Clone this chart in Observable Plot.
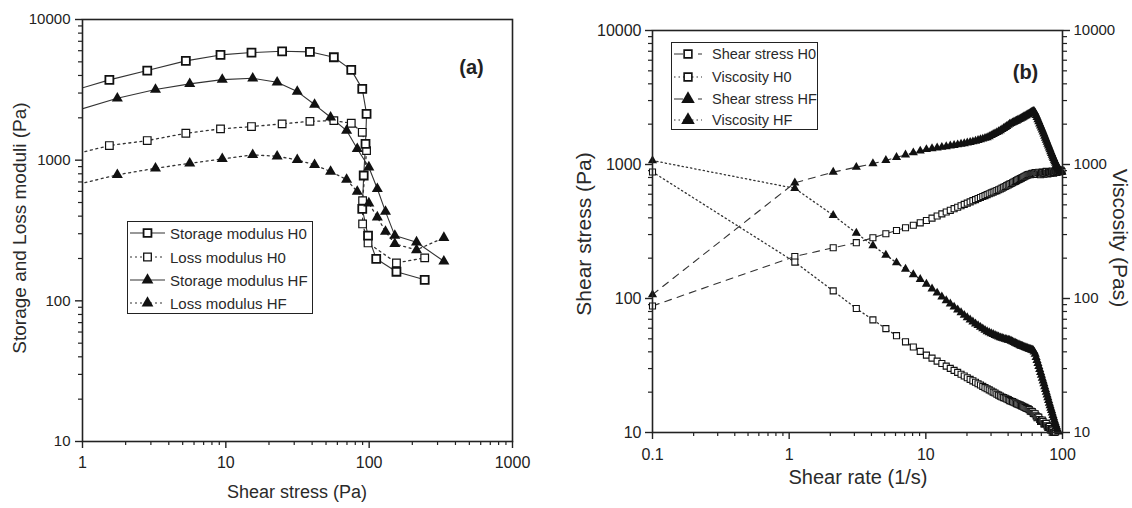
<!DOCTYPE html>
<html><head><meta charset="utf-8">
<script src="https://cdn.jsdelivr.net/npm/d3@7"></script>
<script src="https://cdn.jsdelivr.net/npm/@observablehq/plot@0.6"></script>
<style>
body{margin:0;background:#fff;}
#wrap{position:relative;width:1132px;height:508px;overflow:hidden;font-family:"Liberation Sans",Arial,sans-serif;color:#222;background:#fff;}
.panel{position:absolute;top:0;}
.title{position:absolute;white-space:nowrap;color:#2a2a2a;line-height:1;}
.legend{position:absolute;border:1.6px solid #222;background:#fff;box-sizing:border-box;}
.row{position:absolute;left:0;display:flex;align-items:center;white-space:nowrap;color:#2a2a2a;}
</style></head>
<body><div id="wrap"></div>
<script>
// ---------- Panel (a): Storage / loss moduli vs shear stress ----------
const aStorageH0X = [0.8, 1.54, 2.83, 5.26, 9.18, 15.1, 24.7, 38.6, 56.7, 75, 89.5, 95.9, 94.3, 91.6, 89.5, 98.2, 112, 155, 244];
const aStorageH0Y = [3057, 3722, 4335, 5080, 5600, 5820, 5943, 5890, 5390, 4385, 3212, 2134, 1306, 778, 451, 291, 199, 161, 141];
const aLossH0X = [0.8, 1.54, 2.83, 5.26, 9.18, 15.1, 24.7, 38.6, 56.7, 75, 89.5, 95.9, 90, 90, 98.2, 155, 244];
const aLossH0Y = [1078, 1270, 1378, 1553, 1669, 1733, 1811, 1888, 1911, 1829, 1578, 1170, 516, 352, 258, 186, 202];
const aStorageHFX = [0.8, 1.75, 3.23, 5.6, 9.44, 15.4, 22.8, 31.5, 41.6, 53.8, 69.6, 82.6, 99.5, 114, 130, 151, 214, 332];
const aStorageHFY = [2165, 2754, 3176, 3487, 3739, 3819, 3580, 3073, 2485, 2018, 1623, 1204, 891, 626, 431, 291, 261, 191];
const aLossHFX = [0.8, 1.75, 3.23, 5.6, 9.44, 15.4, 22.8, 31.5, 41.6, 53.8, 69.6, 82.6, 99.5, 114, 130, 151, 214, 332];
const aLossHFY = [649, 787, 876, 950, 1021, 1091, 1066, 1005, 926, 830, 728, 598, 494, 393, 311, 254, 230, 281];
const aLegendLabels = ["Storage modulus H0", "Loss modulus H0", "Storage modulus HF", "Loss modulus HF"];
const aXTicks = [1, 10, 100, 1000];
const aYTicks = [10, 100, 1000, 10000];

// ---------- Panel (b): Shear stress / viscosity vs shear rate ----------
const bRate = [0.1, 1.1, 2.1, 3.1, 4.1, 5.1, 6.1, 7.1, 8.1, 9.1, 10.1, 11.1, 12.1, 13.1, 14.1, 15.1, 16.1, 17.1, 18.1, 19.1, 20.1, 21.1, 22.1, 23.1, 24.1, 25.1, 26.1, 27.1, 28.1, 29.1, 30.1, 31.1, 32.1, 33.1, 34.1, 35.1, 36.1, 37.1, 38.1, 39.1, 40.1, 41.1, 42.1, 43.1, 44.1, 45.1, 46.1, 47.1, 48.1, 49.1, 50.1, 51.1, 52.1, 53.1, 54.1, 55.1, 56.1, 57.1, 58.1, 59.1, 60.1, 61.1, 62.1, 63.1, 64.1, 65.1, 66.1, 67.1, 68.1, 69.1, 70.1, 71.1, 72.1, 73.1, 74.1, 75.1, 76.1, 77.1, 78.1, 79.1, 80.1, 81.1, 82.1, 83.1, 84.1, 85.1, 86.1, 87.1, 88.1, 89.1, 90.1, 91.1, 92.1, 93.1, 94.1, 95.1, 96.1, 97.1, 98.1, 99.1];
const bStressH0 = [88, 206, 239, 261, 284, 304, 322, 337, 352, 367, 382, 398, 413, 428, 442, 455, 468, 480, 492, 504, 515, 526, 537, 547, 557, 567, 577, 586, 596, 605, 614, 622, 631, 639, 648, 656, 666, 676, 685, 695, 704, 713, 722, 731, 740, 749, 758, 767, 775, 784, 792, 800, 808, 817, 825, 833, 841, 846, 838, 852, 861, 849, 858, 870, 852, 843, 866, 874, 851, 838, 862, 880, 869, 846, 858, 877, 889, 864, 851, 872, 886, 870, 856, 878, 893, 881, 862, 874, 890, 902, 884, 871, 889, 905, 896, 880, 893, 908, 899, 887];
const bViscH0 = [880, 187, 114, 84.2, 69.3, 59.6, 52.8, 47.5, 43.5, 40.3, 37.8, 35.9, 34.1, 32.7, 31.3, 30.1, 29.1, 28.1, 27.2, 26.4, 25.6, 24.9, 24.3, 23.7, 23.1, 22.6, 22.1, 21.6, 21.2, 20.8, 20.4, 20.0, 19.7, 19.3, 19.0, 18.7, 18.4, 18.2, 18.0, 17.8, 17.6, 17.3, 17.1, 17.0, 16.8, 16.6, 16.4, 16.3, 16.1, 16.0, 15.8, 15.7, 15.5, 15.4, 15.2, 15.1, 15.0, 14.8, 14.4, 14.4, 14.3, 13.9, 13.8, 13.8, 13.3, 12.9, 13.1, 13.0, 12.5, 12.1, 12.3, 12.4, 12.1, 11.6, 11.6, 11.7, 11.7, 11.2, 10.9, 11.0, 11.1, 10.7, 10.4, 10.6, 10.6, 10.4, 10.0, 10.0, 10.1, 10.1, 9.8, 9.6, 9.7, 9.7, 9.5, 9.3, 9.3, 9.4, 9.2, 9.0];
const bStressHF = [107, 730, 877, 955, 1015, 1075, 1130, 1180, 1225, 1262, 1295, 1313, 1330, 1346, 1362, 1377, 1392, 1406, 1420, 1435, 1450, 1465, 1480, 1497, 1515, 1533, 1552, 1571, 1590, 1618, 1648, 1680, 1705, 1735, 1762, 1790, 1826, 1860, 1895, 1930, 1965, 2000, 2025, 2050, 2074, 2098, 2120, 2145, 2168, 2190, 2216, 2243, 2268, 2294, 2320, 2345, 2370, 2395, 2420, 2448, 2475, 2500, 2480, 2420, 2330, 2250, 2165, 2088, 2013, 1945, 1877, 1812, 1750, 1690, 1631, 1575, 1520, 1470, 1422, 1375, 1330, 1290, 1250, 1212, 1175, 1140, 1110, 1080, 1052, 1025, 1000, 978, 956, 935, 922, 910, 900, 893, 886, 880];
const bViscHF = [1070, 664, 418, 308, 248, 211, 185, 166, 151, 139, 128, 118, 110, 103, 96.6, 91.2, 86.5, 82.2, 78.5, 75.1, 72.1, 69.4, 67.0, 64.8, 62.9, 61.1, 59.5, 58.0, 56.6, 55.6, 54.8, 54.0, 53.1, 52.4, 51.7, 51.0, 50.6, 50.1, 49.7, 49.4, 49.0, 48.7, 48.1, 47.6, 47.0, 46.5, 46.0, 45.5, 45.1, 44.6, 44.2, 43.9, 43.5, 43.2, 42.9, 42.6, 42.2, 41.9, 41.7, 41.4, 41.2, 40.9, 39.9, 38.4, 36.4, 34.6, 32.8, 31.1, 29.6, 28.1, 26.8, 25.5, 24.3, 23.2, 22.0, 21.0, 20.0, 19.1, 18.2, 17.4, 16.6, 15.9, 15.2, 14.6, 14.0, 13.4, 12.9, 12.4, 11.9, 11.5, 11.1, 10.7, 10.4, 10.1, 9.8, 9.6, 9.4, 9.2, 9.0, 8.9];
const bLegendLabels = ["Shear stress H0", "Viscosity H0", "Shear stress HF", "Viscosity HF"];
const bXTicks = [0.1, 1, 10, 100];
const bYTicks = [10, 100, 1000, 10000];

// ---------- helpers ----------
const pts = (xs, ys) => xs.map((x, i) => ({x, y: ys[i]}));
const minorsOf = majors => majors.slice(0, -1).flatMap(m => [2,3,4,5,6,7,8,9].map(k => +(k*m).toPrecision(3)));
const FONT = "Liberation Sans, Arial, sans-serif";
const INK = "#222";

const wrap = document.getElementById("wrap");
function place(node, left) { node.classList.add("panel"); node.style.left = left + "px"; wrap.appendChild(node); }
function addTitle(text, cx, cy, size, rot) {
  const d = document.createElement("div");
  d.className = "title"; d.textContent = text;
  d.style.fontSize = size + "px"; d.style.left = cx + "px"; d.style.top = cy + "px";
  d.style.transform = `translate(-50%,-50%) rotate(${rot}deg)`;
  wrap.appendChild(d);
}
function symbolSvg(kind, dash, w, size, sw) {
  const ns = "http://www.w3.org/2000/svg";
  const s = document.createElementNS(ns, "svg");
  s.setAttribute("width", w); s.setAttribute("height", 16);
  const ln = document.createElementNS(ns, "line");
  ln.setAttribute("x1", 0); ln.setAttribute("x2", w); ln.setAttribute("y1", 8); ln.setAttribute("y2", 8);
  ln.setAttribute("stroke", "#333"); ln.setAttribute("stroke-width", 1.1);
  if (dash) ln.setAttribute("stroke-dasharray", dash);
  s.appendChild(ln);
  const p = document.createElementNS(ns, "path");
  const sym = kind === "square" ? d3.symbolSquare : d3.symbolTriangle;
  p.setAttribute("d", d3.symbol(sym, size)());
  p.setAttribute("transform", `translate(${w/2},8)`);
  if (kind === "square") { p.setAttribute("fill", "#fff"); p.setAttribute("stroke", "#111"); p.setAttribute("stroke-width", sw); }
  else p.setAttribute("fill", "#111");
  s.appendChild(p);
  return s;
}
function addLegend(left, top, width, height, labels, styles, rowY, fontSize, symW, gap) {
  const box = document.createElement("div");
  box.className = "legend";
  Object.assign(box.style, {left: left + "px", top: top + "px", width: width + "px", height: height + "px"});
  labels.forEach((lab, i) => {
    const r = document.createElement("div");
    r.className = "row";
    r.style.top = (rowY[i] - 9) + "px"; r.style.height = "18px"; r.style.left = "2px";
    r.style.fontSize = fontSize + "px";
    const st = styles[i];
    const svg = symbolSvg(st.kind, st.dash, symW, st.size, st.sw);
    svg.style.marginRight = gap + "px";
    r.appendChild(svg);
    const t = document.createElement("span"); t.textContent = lab; r.appendChild(t);
    box.appendChild(r);
  });
  wrap.appendChild(box);
}

// ---------- Panel (a) ----------
const sH0 = pts(aStorageH0X, aStorageH0Y), lH0 = pts(aLossH0X, aLossH0Y);
const sHF = pts(aStorageHFX, aStorageHFY), lHF = pts(aLossHFX, aLossHFY);
const inA = d => d.x >= 1;
const dotted = "2,3.6";
const plotA = Plot.plot({
  width: 560, height: 508,
  marginLeft: 82, marginRight: 48, marginTop: 19, marginBottom: 67,
  style: {fontFamily: FONT, background: "transparent", color: INK, overflow: "visible"},
  x: {type: "log", domain: [1, 1000]},
  y: {type: "log", domain: [10, 10000]},
  marks: [
    Plot.axisX(minorsOf(aXTicks), {tickSize: 4, tickFormat: () => "", strokeWidth: 1.2, label: null}),
    Plot.axisX(aXTicks, {tickSize: 7, tickPadding: 8, tickFormat: d => String(d), fontSize: 16, strokeWidth: 1.4, label: null}),
    Plot.axisY(minorsOf(aYTicks), {tickSize: 4, tickFormat: () => "", strokeWidth: 1.2, label: null}),
    Plot.axisY(aYTicks, {tickSize: 7, tickPadding: 5, tickFormat: d => String(d), fontSize: 15, strokeWidth: 1.4, label: null}),
    Plot.line(sH0, {x: "x", y: "y", stroke: "#333", strokeWidth: 1.1, clip: true}),
    Plot.line(lH0, {x: "x", y: "y", stroke: "#333", strokeWidth: 1.3, strokeDasharray: dotted, clip: true}),
    Plot.line(sHF, {x: "x", y: "y", stroke: "#333", strokeWidth: 1.1, clip: true}),
    Plot.line(lHF, {x: "x", y: "y", stroke: "#333", strokeWidth: 1.3, strokeDasharray: dotted, clip: true}),
    Plot.dot(lH0.filter(inA), {x: "x", y: "y", symbol: "square", r: 4.3, fill: "#fff", stroke: "#111", strokeWidth: 1.2}),
    Plot.dot(sH0.filter(inA), {x: "x", y: "y", symbol: "square", r: 4.5, fill: "#fff", stroke: "#111", strokeWidth: 1.8}),
    Plot.dot(lHF.filter(inA), {x: "x", y: "y", symbol: "triangle", r: 4.1, fill: "#111", stroke: "none"}),
    Plot.dot(sHF.filter(inA), {x: "x", y: "y", symbol: "triangle", r: 4.1, fill: "#111", stroke: "none"}),
    Plot.frame({stroke: INK, strokeWidth: 1.6}),
    Plot.text(["(a)"], {frameAnchor: "top-right", dx: -41, dy: 48, text: d => d, fontSize: 20, fontWeight: "bold", textAnchor: "middle", lineAnchor: "middle", fill: INK})
  ]
});
place(plotA, 0);

// ---------- Panel (b) ----------
const ssH0 = pts(bRate, bStressH0), vH0 = pts(bRate, bViscH0);
const ssHF = pts(bRate, bStressHF), vHF = pts(bRate, bViscHF);
const inB = d => d.y >= 10;
const dashed = "7,6", dots = "1.3,3";
const plotB = Plot.plot({
  width: 572, height: 508,
  marginLeft: 92, marginRight: 70, marginTop: 30, marginBottom: 76,
  style: {fontFamily: FONT, background: "transparent", color: INK, overflow: "visible"},
  x: {type: "log", domain: [0.1, 100]},
  y: {type: "log", domain: [10, 10000]},
  marks: [
    Plot.axisX(minorsOf(bXTicks), {tickSize: 4, tickFormat: () => "", strokeWidth: 1.2, label: null}),
    Plot.axisX(bXTicks, {tickSize: 7, tickPadding: 9, tickFormat: d => String(d), fontSize: 16, strokeWidth: 1.4, label: null}),
    Plot.axisY(minorsOf(bYTicks), {anchor: "left", tickSize: 4, tickFormat: () => "", strokeWidth: 1.2, label: null}),
    Plot.axisY(bYTicks, {anchor: "left", tickSize: 7, tickPadding: 4, tickFormat: d => String(d), fontSize: 16, strokeWidth: 1.4, label: null}),
    Plot.axisY(minorsOf(bYTicks), {anchor: "right", tickSize: 4, tickFormat: () => "", strokeWidth: 1.2, label: null}),
    Plot.axisY(bYTicks, {anchor: "right", tickSize: 7, tickPadding: 4, tickFormat: d => String(d), fontSize: 15, strokeWidth: 1.4, label: null}),
    Plot.line(ssH0, {x: "x", y: "y", stroke: "#333", strokeWidth: 1.1, strokeDasharray: dashed, clip: true}),
    Plot.line(vH0, {x: "x", y: "y", stroke: "#333", strokeWidth: 1.3, strokeDasharray: dots, clip: true}),
    Plot.line(ssHF, {x: "x", y: "y", stroke: "#333", strokeWidth: 1.1, strokeDasharray: dashed, clip: true}),
    Plot.line(vHF, {x: "x", y: "y", stroke: "#333", strokeWidth: 1.3, strokeDasharray: dots, clip: true}),
    Plot.dot(ssH0.filter(inB), {x: "x", y: "y", symbol: "square", r: 3.4, fill: "#fff", stroke: "#111", strokeWidth: 1.1}),
    Plot.dot(vH0.filter(inB), {x: "x", y: "y", symbol: "square", r: 3.4, fill: "#fff", stroke: "#111", strokeWidth: 1.1}),
    Plot.dot(ssHF.filter(inB), {x: "x", y: "y", symbol: "triangle", r: 3.4, fill: "#111", stroke: "none"}),
    Plot.dot(vHF.filter(inB), {x: "x", y: "y", symbol: "triangle", r: 3.4, fill: "#111", stroke: "none"}),
    Plot.frame({stroke: INK, strokeWidth: 1.6}),
    Plot.text(["(b)"], {frameAnchor: "top-right", dx: -37, dy: 42, text: d => d, fontSize: 20, fontWeight: "bold", textAnchor: "middle", lineAnchor: "middle", fill: INK})
  ]
});
place(plotB, 560);

// ---------- titles ----------
addTitle("Storage and Loss moduli (Pa)", 19, 228, 19, -90);
addTitle("Shear stress (Pa)", 297, 492, 18, 0);
addTitle("Shear stress (Pa)", 583, 234, 21, -90);
addTitle("Viscosity (Pas)", 1120, 238, 21, 90);
addTitle("Shear rate (1/s)", 858, 477, 20, 0);

// ---------- legends ----------
addLegend(127, 221, 186, 93, aLegendLabels, [
  {kind: "square", dash: null, size: 62, sw: 1.8},
  {kind: "square", dash: "2,3", size: 58, sw: 1.3},
  {kind: "triangle", dash: null, size: 60},
  {kind: "triangle", dash: "2,3", size: 60}
], [11, 35, 58, 81], 15, 35, 5);
addLegend(671, 42, 147, 88, bLegendLabels, [
  {kind: "square", dash: "9,15", size: 60, sw: 1.6},
  {kind: "square", dash: "1.5,3", size: 60, sw: 1.6},
  {kind: "triangle", dash: "9,15", size: 80},
  {kind: "triangle", dash: "1.5,3", size: 80}
], [11, 33.5, 55.5, 77], 14.5, 28, 10);
</script></body></html>
